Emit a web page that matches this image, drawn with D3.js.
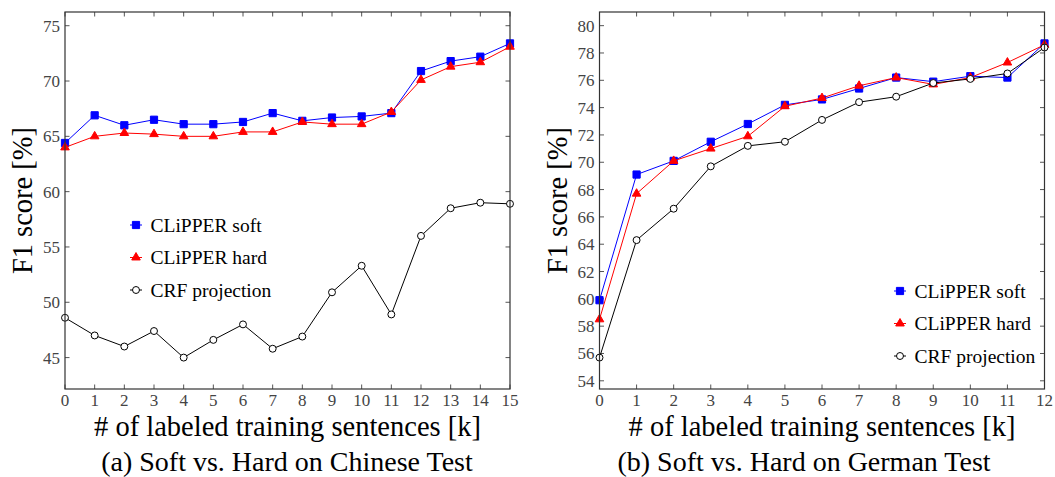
<!DOCTYPE html>
<html><head><meta charset="utf-8">
<script src="https://cdn.jsdelivr.net/npm/d3@7"></script>
<style>body{margin:0;background:#fff}svg{display:block}</style>
</head><body>
<svg id="c" width="1055" height="477"></svg>
<script>
// ---- data ----
const xCN = [0,1,2,3,4,5,6,7,8,9,10,11,12,13,14,15];
const softCN = [64.4,66.9,66.0,66.5,66.1,66.1,66.3,67.1,66.4,66.7,66.8,67.1,70.9,71.8,72.2,73.4];
const hardCN = [64.0,65.0,65.3,65.2,65.0,65.0,65.4,65.4,66.3,66.1,66.1,67.2,70.1,71.3,71.7,73.1];
const crfCN  = [48.6,47.0,46.0,47.4,45.0,46.6,48.0,45.8,46.9,50.9,53.3,48.9,56.0,58.5,59.0,58.9];
const yTicksCN = [45,50,55,60,65,70,75];

const xDE = [0,1,2,3,4,5,6,7,8,9,10,11,12];
const softDE = [59.9,69.1,70.1,71.5,72.8,74.2,74.6,75.4,76.2,75.9,76.3,76.2,78.7];
const hardDE = [58.5,67.7,70.1,71.0,71.9,74.1,74.7,75.6,76.2,75.7,76.2,77.3,78.6];
const crfDE  = [55.7,64.3,66.6,69.7,71.2,71.5,73.1,74.4,74.8,75.8,76.1,76.5,78.4];
const yTicksDE = [54,56,58,60,62,64,66,68,70,72,74,76,78,80];

const seriesNames = ["CLiPPER soft","CLiPPER hard","CRF projection"];
const xTitle = "# of labeled training sentences [k]";
const yTitle = "F1 score [%]";
const captions = ["(a) Soft vs. Hard on Chinese Test","(b) Soft vs. Hard on German Test"];

// ---- drawing ----
const svg = d3.select("#c");
const SERIF = "'Liberation Serif','Times New Roman',serif";
const styles = [
  {color:"#0000ff", sym:d3.symbolSquare, size:52, fill:"#0000ff"},
  {color:"#ff0000", sym:d3.symbolTriangle, size:32, fill:"#ff0000"},
  {color:"#000000", sym:d3.symbolCircle, size:38, fill:"#ffffff"}
];

function panel(opt){
  const {x0,x1,y0,y1,xs,series,yTicks,legendX,legendY,caption,capX} = opt;
  const all = series.flat();
  const lo = d3.min(all), hi = d3.max(all), pad = (hi-lo)*0.1;
  const x = d3.scaleLinear().domain(d3.extent(xs)).range([x0,x1]);
  const y = d3.scaleLinear().domain([lo-pad,hi+pad]).range([y1,y0]);
  const g = svg.append("g");
  const tickLen = 4.5;
  const tc = "#555";
  const ax = g.append("g");
  ax.selectAll(".xb").data(xs).join("line")
    .attr("x1",d=>x(d)).attr("x2",d=>x(d)).attr("y1",y1).attr("y2",y1-tickLen)
    .attr("stroke",tc).attr("stroke-width",1);
  ax.selectAll(".xt").data(xs).join("line")
    .attr("x1",d=>x(d)).attr("x2",d=>x(d)).attr("y1",y0).attr("y2",y0+tickLen)
    .attr("stroke",tc).attr("stroke-width",1);
  ax.selectAll(".yl").data(yTicks).join("line")
    .attr("x1",x0).attr("x2",x0+tickLen).attr("y1",d=>y(d)).attr("y2",d=>y(d))
    .attr("stroke",tc).attr("stroke-width",1);
  ax.selectAll(".yr").data(yTicks).join("line")
    .attr("x1",x1).attr("x2",x1-tickLen).attr("y1",d=>y(d)).attr("y2",d=>y(d))
    .attr("stroke",tc).attr("stroke-width",1);
  g.append("g").selectAll("text").data(xs).join("text")
    .attr("x",d=>x(d)).attr("y",y1+17).attr("text-anchor","middle")
    .attr("font-family",SERIF).attr("font-size",17).attr("fill","#444").text(d=>d);
  g.append("g").selectAll("text").data(yTicks).join("text")
    .attr("x",x0-5).attr("y",d=>y(d)+6).attr("text-anchor","end")
    .attr("font-family",SERIF).attr("font-size",17).attr("fill","#444").text(d=>d);
  const line = d3.line().x((d,i)=>x(xs[i])).y(d=>y(d));
  series.forEach((s,k)=>{
    const st = styles[k];
    const sg = g.append("g");
    sg.append("path").attr("d",line(s)).attr("fill","none").attr("stroke",st.color).attr("stroke-width",1);
    sg.selectAll("path.m").data(s).join("path").attr("class","m")
      .attr("transform",(d,i)=>`translate(${x(xs[i])},${y(d)})`)
      .attr("d",d3.symbol().type(st.sym).size(st.size)())
      .attr("fill",st.fill).attr("stroke",st.color).attr("stroke-width",1);
  });
  g.append("rect").attr("x",x0).attr("y",y0).attr("width",x1-x0).attr("height",y1-y0)
    .attr("fill","none").attr("stroke","#333").attr("stroke-width",1.2);
  const lg = g.append("g").attr("transform",`translate(${legendX},${legendY})`);
  seriesNames.forEach((n,k)=>{
    const st = styles[k];
    const row = lg.append("g").attr("transform",`translate(0,${k*32.5})`);
    row.append("line").attr("x1",0).attr("x2",12).attr("stroke",st.color).attr("stroke-width",1);
    row.append("path").attr("transform","translate(6,0)")
      .attr("d",d3.symbol().type(st.sym).size(st.size)())
      .attr("fill",st.fill).attr("stroke",st.color).attr("stroke-width",1);
    row.append("text").attr("x",20.5).attr("y",6.5).attr("font-family",SERIF)
      .attr("font-size",19.5).attr("fill","#000").text(n);
  });
  const cx = (x0+x1)/2;
  g.append("text").attr("x",cx).attr("y",435.5).attr("text-anchor","middle")
    .attr("font-family",SERIF).attr("font-size",28.5).attr("fill","#000").text(xTitle);
  g.append("text").attr("transform",`translate(${x0-33},${(y0+y1)/2}) rotate(-90)`)
    .attr("text-anchor","middle").attr("font-family",SERIF).attr("font-size",28.5)
    .attr("fill","#000").text(yTitle);
  g.append("text").attr("x",capX).attr("y",471).attr("text-anchor","middle")
    .attr("font-family",SERIF).attr("font-size",28).attr("fill","#000").text(caption);
}

panel({x0:65,x1:510,y0:12,y1:389,xs:xCN,series:[softCN,hardCN,crfCN],yTicks:yTicksCN,
  legendX:130,legendY:225,caption:captions[0],capX:287});
panel({x0:599.5,x1:1044.5,y0:12,y1:389,xs:xDE,series:[softDE,hardDE,crfDE],yTicks:yTicksDE,
  legendX:894,legendY:291,caption:captions[1],capX:804});
</script>
</body></html>
